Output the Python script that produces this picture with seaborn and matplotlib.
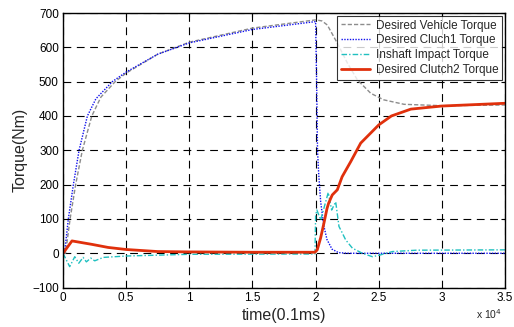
import numpy as np
import matplotlib
matplotlib.use("Agg")
import matplotlib.pyplot as plt
import seaborn as sns

# ==============================
# DATA
# ==============================
vehicle_t = [0, 200, 560, 1000, 1530, 2280, 3000, 4130, 5000, 7500, 10000, 15000,
             20000, 20500, 20930, 21720, 22520, 23310, 24370, 25400, 27000, 30000, 35000]
vehicle_v = [0, 0, 100, 200, 300, 400, 455, 500, 525, 580, 615, 656,
             680, 677, 665, 612, 554, 505, 466, 447, 434, 430, 432]

clutch1_t = [0, 120, 420, 820, 1270, 1930, 2600, 3900, 5000, 7500, 10000, 15000,
             20000, 20080, 20150, 20250, 20400, 20650, 20900, 21300, 21800, 22500, 35000]
clutch1_v = [0, 0, 100, 200, 300, 400, 450, 500, 528, 580, 613, 652,
             675, 500, 300, 228, 150, 80, 40, 12, 2, 0, 0]

inshaft_t = [0, 200, 530, 930, 1250, 1590, 1850, 2200, 2510, 3200, 5000, 10000, 19950,
             20000, 20100, 20400, 21000, 21270, 21590, 21850, 22060, 22380, 22910,
             23700, 24500, 25100, 26090, 28000, 35000]
inshaft_v = [0, -15, -39, -10, -29, -12, -25, -14, -22, -12, -8, -3, -2,
             110, 126, 97, 177, 126, 150, 78, 63, 39, 15,
             0, -10, -5, 5, 9, 10]

clutch2_t = [0, 710, 2280, 3570, 5000, 7500, 10000, 15000, 19950, 20130, 20400,
             20660, 20900, 21030, 21320, 21720, 22100, 22780, 23570, 25000, 26000,
             27540, 30000, 35000]
clutch2_v = [0, 36, 26, 17, 11, 5, 4, 3, 3, 10, 45,
             88, 130, 146, 170, 185, 223, 267, 321, 374, 400,
             420, 429, 437]

x_ticks = [0, 5000, 10000, 15000, 20000, 25000, 30000, 35000]
x_labels = ["0", "0.5", "1", "1.5", "2", "2.5", "3", "3.5"]
y_ticks = [-100, 0, 100, 200, 300, 400, 500, 600, 700]

# ==============================
# PLOT
# ==============================
sns.set_style("white")
plt.rcParams["font.family"] = ["Liberation Sans", "DejaVu Sans"]

fig = plt.figure(figsize=(5.14, 3.27), dpi=100)
ax = fig.add_axes([0.1226, 0.1205, 0.86, 0.8397])

sns.lineplot(x=vehicle_t, y=vehicle_v, ax=ax, color="#8c8c8c", lw=1.0,
             linestyle=(0, (3, 1.5)), label="Desired Vehicle Torque")
sns.lineplot(x=clutch1_t, y=clutch1_v, ax=ax, color="#1010ee", lw=1.0,
             linestyle=(0, (1, 1)), label="Desired Cluch1 Torque")
sns.lineplot(x=inshaft_t, y=inshaft_v, ax=ax, color="#20c0c0", lw=1.0,
             linestyle=(0, (4, 1.5, 1, 1.5)), label="Inshaft Impact Torque")
sns.lineplot(x=clutch2_t, y=clutch2_v, ax=ax, color="#e0300c", lw=2.0,
             linestyle="-", label="Desired Clutch2 Torque")

ax.set_xlim(0, 35000)
ax.set_ylim(-100, 700)
ax.set_xticks(x_ticks)
ax.set_xticklabels(x_labels)
ax.set_yticks(y_ticks)
ax.tick_params(direction="in", length=3, labelsize=8.5, colors="black",
               top=True, right=True, pad=3)

ax.grid(True, color="black", linestyle=(0, (7, 5)), lw=0.8)
for s in ax.spines.values():
    s.set_color("black")
    s.set_linewidth(1.0)

ax.set_xlabel("time(0.1ms)", fontsize=11.5, labelpad=3)
ax.set_ylabel("Torque(Nm)", fontsize=11.5, labelpad=3)
ax.text(0.993, -0.072, r"x 10$^4$", transform=ax.transAxes, fontsize=7.5,
        ha="right", va="top")

leg = ax.legend(loc="upper right", fontsize=8.5, frameon=True, fancybox=False,
                edgecolor="black", borderpad=0.3, labelspacing=0.25,
                handlelength=2.5, handletextpad=0.5, borderaxespad=0.25)
leg.get_frame().set_linewidth(0.8)

fig.savefig("out.png", dpi=100)
